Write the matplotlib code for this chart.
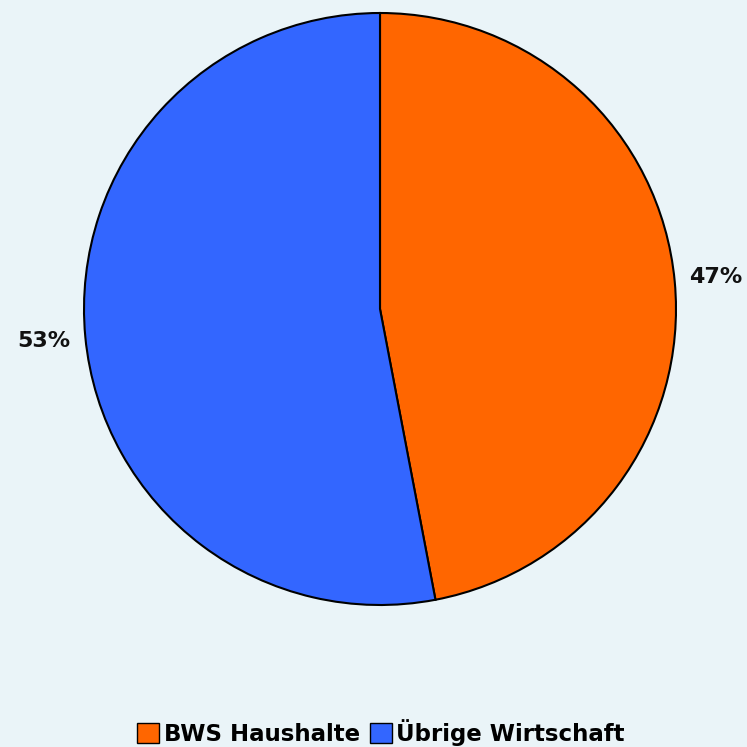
import matplotlib
matplotlib.use("Agg")
import matplotlib.pyplot as plt

labels = ["BWS Haushalte", "Übrige Wirtschaft"]
shares = [47, 53]
colors = ["#FF6600", "#3366FF"]
BG = "#EAF4F8"

fig = plt.figure(figsize=(7.47, 7.47), dpi=100, facecolor=BG)
ax = fig.add_axes([0, 0, 1, 1])
ax.set_facecolor(BG)
ax.axis("off")

wedges, _, autotexts = ax.pie(
    shares, colors=colors, startangle=90, counterclock=False,
    center=(380, 747 - 309), radius=296,
    autopct=lambda p: f"{round(p):d}%", pctdistance=1.14,
    wedgeprops=dict(edgecolor="black", linewidth=1.5),
    textprops=dict(fontsize=16, fontweight="bold", color="#111111"),
)
ax.set_xlim(0, 747)
ax.set_ylim(0, 747)
ax.set_aspect("equal")

leg = fig.legend(wedges, labels, loc="center", bbox_to_anchor=(0.51, 0.019),
                 ncol=2, frameon=False, handlelength=0.95, handleheight=0.95,
                 handletextpad=0.2, columnspacing=0.45,
                 prop=dict(size=16.5, weight="bold"))
for h in leg.legend_handles:
    h.set_linewidth(1.0)

fig.savefig("out.png", dpi=100, facecolor=BG)
